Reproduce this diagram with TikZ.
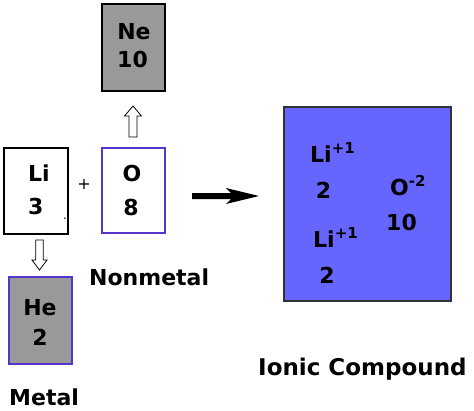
\documentclass[tikz,border=0pt]{standalone}
\usepackage{fontspec}
\setmainfont{DejaVu Sans}
\definecolor{boxgray}{HTML}{999999}
\definecolor{boxpurple}{HTML}{5533CC}
\definecolor{ionblue}{HTML}{6666FF}
\begin{document}
\begin{tikzpicture}[x=1pt,y=-1pt,
  elbox/.style={draw=black, line width=1.2pt, inner sep=0pt},
  big/.style={font=\fontsize{22}{22}\selectfont\bfseries, inner sep=0pt, anchor=base},
  bigw/.style={big, anchor=base west},
  hollow/.style={draw=black, line width=0.8pt, fill=white}]
\useasboundingbox (0,0) rectangle (474,410);
\newcommand{\sups}[1]{{\fontsize{15}{15}\selectfont\raisebox{8.5pt}{#1}}}
% boxes
\node[elbox, minimum width=64pt, minimum height=86pt] (li) at (36,191) {};
\node[elbox, draw=boxpurple, minimum width=63pt, minimum height=85pt] (o) at (133.5,190.5) {};
\node[elbox, fill=boxgray, minimum width=63pt, minimum height=87pt] (ne) at (133.5,47.5) {};
\node[elbox, draw=boxpurple, fill=boxgray, minimum width=63pt, minimum height=87pt] (he) at (40.5,320.5) {};
\node[elbox, draw=black!80, fill=ionblue, minimum width=167pt, minimum height=194pt] (ion) at (367.5,204) {};
% box texts
\node[bigw] (liT) at (28,181) {Li};
\node[bigw] (liN) at (28,214) {3};
\node[font=\fontsize{12}{12}\selectfont, inner sep=0pt] (dot) at (65,219) {.};
\node[big] (oT) at (132,181) {O};
\node[big] (oN) at (131,215) {8};
\node[big] (neT) at (134,39) {Ne};
\node[big] (neN) at (132.5,67) {10};
\node[big] (heT) at (40,315) {He};
\node[big] (heN) at (40,345) {2};
\node[font=\fontsize{16}{16}\selectfont, inner sep=0pt] (plus) at (84,184) {+};
% ionic texts
\node[bigw] (ion1) at (310,162) {Li\sups{+1}};
\node[big] (ion1n) at (323.5,198) {2};
\node[bigw] (ion2) at (390,195) {O\sups{-2}};
\node[big] (ion2n) at (401.5,230) {10};
\node[bigw] (ion3) at (313,247) {Li\sups{+1}};
\node[big] (ion3n) at (327,283) {2};
% labels
\node[bigw] (nonmetal) at (89,285) {Nonmetal};
\node[bigw] (metal) at (9,405) {Metal};
\node[bigw, font=\fontsize{23}{23}\selectfont\bfseries] (ionic) at (258,375) {Ionic Compound};
% hollow arrows
\draw[hollow] (133,106) -- (141.5,116) -- (137,116) -- (137,137) -- (129,137) -- (129,116) -- (124.5,116) -- cycle;
\draw[hollow] (39.5,270) -- (47,260) -- (43.3,260) -- (43.3,240) -- (35.7,240) -- (35.7,260) -- (32,260) -- cycle;
% reaction arrow
\fill[black] (192,193) -- (231,193) -- (226,188) -- (259,196) -- (226,204) -- (231,199) -- (192,199) -- cycle;
\end{tikzpicture}
\end{document}
